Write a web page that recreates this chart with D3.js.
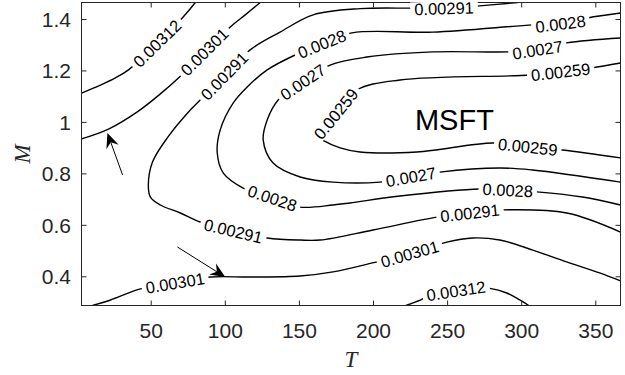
<!DOCTYPE html>
<html>
<head>
<meta charset="utf-8">
<script src="https://cdn.jsdelivr.net/npm/d3@7"></script>
<style>
  body { margin: 0; background: #fff; }
  svg { display: block; }
</style>
</head>
<body>
<div id="chart"></div>
<script>
// axis limits and ticks
const tRange = [3.3, 367];
const mRange = [0.2865, 1.464];
const xTicks = [50, 100, 150, 200, 250, 300, 350];
const yTicks = [0.4, 0.6, 0.8, 1, 1.2, 1.4];

// contour lines, each as [T, M] points
const c312a = [[3.3,1.112],[16.1,1.143],[26.2,1.171],[35.0,1.202],[53.2,1.299],[71.3,1.404],[76.0,1.435],[80.1,1.464]];
const c312b = [[222.2,0.2865],[230.3,0.304],[238.4,0.324],[255.9,0.343],[270.7,0.355],[278.8,0.353],[290.2,0.335],[299.0,0.308],[305.1,0.2865]];
const c301a = [[3.3,0.934],[21.5,0.972],[41.7,1.042],[56.5,1.109],[68.7,1.171],[86.2,1.272],[103.7,1.369],[113.8,1.416],[123.9,1.464]];
const c301b = [[10.7,0.2865],[22.9,0.308],[43.1,0.351],[66.6,0.374],[90.2,0.397],[117.1,0.397],[150.8,0.401],[173.0,0.417],[202.7,0.456],[224.9,0.487],[249.8,0.533],[267.3,0.549],[285.5,0.541],[307.8,0.502],[330.7,0.456],[352.9,0.413],[367,0.382]];
const c291 = [[297.7,1.464],[270.0,1.450],[247.8,1.441],[224.9,1.442],[191.2,1.440],[159.6,1.416],[137.3,1.349],[117.1,1.280],[99.6,1.178],[83.4,1.085],[76.7,1.046],[61.2,0.938],[51.2,0.844],[48.4,0.755],[49.8,0.708],[56.5,0.677],[70.0,0.646],[83.4,0.611],[105.7,0.576],[128.6,0.549],[150.8,0.541],[164.3,0.541],[200.0,0.580],[243.1,0.630],[265.3,0.646],[287.5,0.658],[330.7,0.646],[367,0.572]];
const c28 = [[367,1.423],[344.8,1.404],[326.6,1.381],[307.8,1.377],[240.4,1.349],[185.8,1.346],[165.6,1.303],[147.4,1.260],[128.6,1.202],[115.1,1.136],[105.7,1.074],[96.9,0.969],[94.9,0.879],[99.0,0.801],[112.4,0.743],[131.9,0.704],[150.8,0.669],[173.0,0.677],[184.5,0.685],[218.2,0.712],[272.1,0.739],[290.9,0.735],[310.5,0.728],[341.4,0.708],[367,0.677]];
const c27 = [[367,1.326],[330.7,1.307],[311.1,1.280],[292.3,1.272],[240.4,1.272],[195.9,1.252],[171.0,1.221],[152.8,1.155],[136.0,1.085],[128.6,1.007],[125.9,0.930],[132.6,0.840],[150.8,0.786],[173.0,0.766],[204.7,0.766],[225.6,0.786],[245.1,0.805],[285.5,0.821],[307.8,0.813],[367,0.766]];
const c259 = [[367,1.229],[347.5,1.210],[326.6,1.194],[305.7,1.182],[218.2,1.163],[189.2,1.124],[175.0,1.031],[165.6,0.976],[162.9,0.945],[167.0,0.926],[177.8,0.899],[191.2,0.883],[229.6,0.883],[280.8,0.918],[304.4,0.903],[328.0,0.891],[367,0.860]];

// contour level text and where its labels sit [T, M]
const levelNames = ["0.00312", "0.00312", "0.00301", "0.00301", "0.00291", "0.0028", "0.0027", "0.00259"];
const lab312a = [[53.9,1.307]];
const lab312b = [[255.9,0.343]];
const lab301a = [[86.2,1.272]];
const lab301b = [[66.6,0.370],[224.9,0.487]];
const lab291 = [[247.8,1.441],[99.6,1.178],[105.7,0.576],[265.3,0.646]];
const lab28 = [[326.6,1.381],[165.6,1.303],[131.9,0.704],[290.9,0.735]];
const lab27 = [[311.1,1.280],[152.8,1.155],[225.6,0.786]];
const lab259 = [[326.6,1.194],[175.0,1.031],[304.4,0.903]];

// annotation arrows (tail -> tip) and the text tag
const arrowTails = [[31.0,0.794],[68.0,0.514]];
const arrowTips = [[20.8,0.957],[100.3,0.397]];
const tagText = "MSFT";
const tagAt = [228.3, 0.969];

const contours = [c312a, c312b, c301a, c301b, c291, c28, c27, c259];
const labelSpots = [lab312a, lab312b, lab301a, lab301b, lab291, lab28, lab27, lab259];

const width = 625, height = 375;
const margin = {top: 2.5, right: 4.5, bottom: 69.5, left: 81.5};
const axisColor = "#262626";
const sans = "'Liberation Sans', Arial, sans-serif";
const serif = "'Liberation Serif', 'Times New Roman', serif";

const svg = d3.select("#chart").append("svg")
    .attr("width", width)
    .attr("height", height);

const x = d3.scaleLinear().domain(tRange).range([margin.left, width - margin.right]);
const y = d3.scaleLinear().domain(mRange).range([height - margin.bottom, margin.top]);

svg.append("clipPath").attr("id", "plotclip")
    .append("rect")
    .attr("x", margin.left).attr("y", margin.top)
    .attr("width", width - margin.left - margin.right)
    .attr("height", height - margin.top - margin.bottom);

// contour lines
const line = d3.line()
    .x(d => x(d[0]))
    .y(d => y(d[1]))
    .curve(d3.curveCatmullRom.alpha(0.5));

const lineG = svg.append("g").attr("clip-path", "url(#plotclip)");
const paths = contours.map(c => lineG.append("path")
    .datum(c)
    .attr("d", line)
    .attr("fill", "none")
    .attr("stroke", "#000")
    .attr("stroke-width", 1.4));

// axes (ticks point inward, box on)
function styleAxis(g) {
    g.select(".domain").remove();
    g.selectAll(".tick line").attr("stroke", axisColor);
    g.selectAll(".tick text")
        .attr("fill", axisColor)
        .attr("font-family", sans)
        .attr("font-size", 21);
}

svg.append("g")
    .attr("transform", `translate(0,${y.range()[0]})`)
    .call(d3.axisBottom(x).tickValues(xTicks).tickSizeInner(-5).tickSizeOuter(0).tickPadding(17.5))
    .call(styleAxis);

svg.append("g")
    .attr("transform", `translate(0,${y.range()[1]})`)
    .call(d3.axisTop(x).tickValues(xTicks).tickSizeInner(-5).tickSizeOuter(0).tickFormat(""))
    .call(styleAxis);

svg.append("g")
    .attr("transform", `translate(${x.range()[0]},0)`)
    .call(d3.axisLeft(y).tickValues(yTicks).tickSizeInner(-5).tickSizeOuter(0).tickPadding(10.5).tickFormat(d => String(d)))
    .call(styleAxis)
    .call(g => g.selectAll(".tick text").attr("dy", "0.36em"));

svg.append("g")
    .attr("transform", `translate(${x.range()[1]},0)`)
    .call(d3.axisRight(y).tickValues(yTicks).tickSizeInner(-5).tickSizeOuter(0).tickFormat(""))
    .call(styleAxis);

svg.append("rect")
    .attr("x", x.range()[0]).attr("y", y.range()[1])
    .attr("width", x.range()[1] - x.range()[0])
    .attr("height", y.range()[0] - y.range()[1])
    .attr("fill", "none")
    .attr("stroke", axisColor)
    .attr("stroke-width", 1);

// inline contour labels
const labelG = svg.append("g");
paths.forEach((p, i) => {
    const node = p.node();
    const L = node.getTotalLength();
    labelSpots[i].forEach(s => {
        const sx = x(s[0]), sy = y(s[1]);
        let best = 0, bd = Infinity;
        for (let l = 0; l <= L; l += 0.5) {
            const q = node.getPointAtLength(l);
            const dd = (q.x - sx) ** 2 + (q.y - sy) ** 2;
            if (dd < bd) { bd = dd; best = l; }
        }
        const g = labelG.append("g");
        const t = g.append("text")
            .text(levelNames[i])
            .attr("text-anchor", "middle")
            .attr("dy", "0.36em")
            .attr("font-family", sans)
            .attr("font-size", 16.5)
            .attr("fill", "#000");
        const w = t.node().getComputedTextLength();
        const a = node.getPointAtLength(Math.max(0, best - w / 2));
        const b = node.getPointAtLength(Math.min(L, best + w / 2));
        let ang = Math.atan2(b.y - a.y, b.x - a.x) * 180 / Math.PI;
        if (ang > 90) ang -= 180;
        if (ang < -90) ang += 180;
        const c = node.getPointAtLength(best);
        g.attr("transform", `translate(${c.x},${c.y}) rotate(${ang})`);
        g.insert("rect", "text")
            .attr("x", -w / 2 - 4).attr("y", -7)
            .attr("width", w + 8).attr("height", 14)
            .attr("fill", "#fff");
    });
});

// arrows
arrowTails.forEach((tail, i) => {
    const tip = arrowTips[i];
    const x0 = x(tail[0]), y0 = y(tail[1]);
    const x1 = x(tip[0]), y1 = y(tip[1]);
    const a = Math.atan2(y1 - y0, x1 - x0);
    const ux = Math.cos(a), uy = Math.sin(a);
    const headLen = 15, notch = 10, half = 6.5;
    svg.append("line")
        .attr("x1", x0).attr("y1", y0)
        .attr("x2", x1 - ux * notch).attr("y2", y1 - uy * notch)
        .attr("stroke", "#000")
        .attr("stroke-width", 1);
    const pts = [
        [x1, y1],
        [x1 - ux * headLen - uy * half, y1 - uy * headLen + ux * half],
        [x1 - ux * notch, y1 - uy * notch],
        [x1 - ux * headLen + uy * half, y1 - uy * headLen - ux * half]
    ];
    svg.append("polygon")
        .attr("points", pts.map(d => d.join(",")).join(" "))
        .attr("fill", "#000");
});

// tag
svg.append("text")
    .attr("x", x(tagAt[0]))
    .attr("y", y(tagAt[1]))
    .attr("font-family", sans)
    .attr("font-size", 29)
    .attr("fill", "#000")
    .text(tagText);

// axis titles
svg.append("text")
    .attr("x", (x.range()[0] + x.range()[1]) / 2)
    .attr("y", 367)
    .attr("text-anchor", "middle")
    .attr("font-family", serif)
    .attr("font-style", "italic")
    .attr("font-size", 23)
    .attr("fill", axisColor)
    .text("T");

svg.append("text")
    .attr("transform", `translate(30,${(y.range()[0] + y.range()[1]) / 2}) rotate(-90)`)
    .attr("text-anchor", "middle")
    .attr("font-family", serif)
    .attr("font-style", "italic")
    .attr("font-size", 23)
    .attr("fill", axisColor)
    .text("M");
</script>
</body>
</html>
